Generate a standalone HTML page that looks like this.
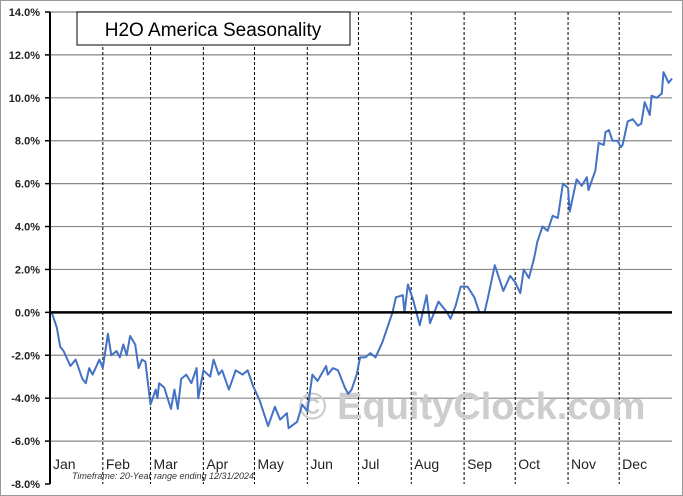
<!DOCTYPE html>
<html><head><meta charset="utf-8"><style>
body{margin:0;background:#fff;}
svg{display:block;font-family:"Liberation Sans",sans-serif;}
</style></head><body>
<svg id="c" width="683" height="496">
<rect x="0.5" y="0.5" width="682" height="495" fill="#fff" stroke="#999"/>
<g id="grid"></g>
<text x="472" y="419" font-size="38" font-weight="bold" fill="#cdcdcd" text-anchor="middle">© EquityClock.com</text>
<g id="series"></g>
<g id="axes"></g>
<rect x="77" y="12" width="273" height="33" fill="#fff" stroke="#000"/>
<text x="213" y="36" font-size="19" text-anchor="middle">H2O America Seasonality</text>
<text x="72" y="479" font-size="9" font-style="italic" fill="#333">Timeframe: 20-Year range ending 12/31/2024</text>
</svg>
<script>
const months=["Jan","Feb","Mar","Apr","May","Jun","Jul","Aug","Sep","Oct","Nov","Dec"];
const monthStarts=[0,31,59,90,120,151,181,212,243,273,304,334];
const yTicks=[14,12,10,8,6,4,2,0,-2,-4,-6,-8];
const days=[0,1,4,6,8,12,15,19,21,23,25,29,31,34,36,39,41,43,45,47,50,52,54,56,59,62,63,64,67,71,73,75,77,80,83,86,87,90,94,96,99,101,105,109,113,116,119,123,128,132,135,139,140,145,148,151,154,157,162,163,166,169,173,175,177,180,182,185,188,191,195,198,201,203,207,208,210,213,217,221,223,228,233,235,238,241,245,249,252,255,257,261,266,270,273,276,278,281,284,286,289,292,295,298,301,304,305,309,312,315,316,320,322,325,326,328,330,333,335,336,339,342,345,347,349,352,353,356,359,360,363,365];
const values=[0,0,-0.7,-1.6,-1.8,-2.5,-2.2,-3.1,-3.3,-2.6,-2.9,-2.2,-2.6,-1.0,-2.0,-1.8,-2.1,-1.5,-2.0,-1.1,-1.5,-2.6,-2.2,-2.3,-4.3,-3.6,-4.0,-3.3,-3.5,-4.5,-3.6,-4.5,-3.1,-2.9,-3.3,-2.6,-4.0,-2.7,-3.0,-2.2,-2.9,-2.7,-3.6,-2.7,-2.9,-2.7,-3.4,-4.1,-5.3,-4.4,-5.0,-4.7,-5.4,-5.1,-4.3,-4.6,-2.9,-3.2,-2.5,-2.9,-2.6,-2.7,-3.5,-3.8,-3.6,-2.9,-2.1,-2.1,-1.9,-2.1,-1.4,-0.7,0,0.7,0.8,0,1.3,0.6,-0.6,0.8,-0.5,0.5,0,-0.3,0.3,1.2,1.2,0.7,0,0,0.7,2.2,1.0,1.7,1.4,0.9,2.0,1.6,2.5,3.3,4.0,3.8,4.5,4.4,6.0,5.8,4.7,6.2,5.9,6.3,5.7,6.6,7.9,7.8,8.4,8.5,8.0,8.0,7.7,7.8,8.9,9.0,8.7,8.8,9.8,9.2,10.1,10.0,10.2,11.2,10.7,10.9];
const NS="http://www.w3.org/2000/svg";
const X0=50,X1=672,Y0=12,Y1=484;
const xs=d=>X0+d/365*(X1-X0);
const ys=v=>Y0+(14-v)/22*(Y1-Y0);
function mk(tag,attrs,parent,txt){const e=document.createElementNS(NS,tag);for(const k in attrs)e.setAttribute(k,attrs[k]);if(txt!==undefined)e.textContent=txt;parent.appendChild(e);return e;}
const grid=document.getElementById('grid'),axes=document.getElementById('axes'),series=document.getElementById('series');
yTicks.forEach(t=>{
  const y=ys(t);
  if(t!==0&&t!==-8){const l=mk('line',{x1:X0,x2:X1,y1:y,y2:y,stroke:'#888','stroke-width':1.2},grid);
  
  }
  const tk=mk('line',{x1:X0-5,x2:X0,y1:y,y2:y,stroke:'#000','stroke-width':1.5},axes);
  
  
  const lb=mk('text',{x:X0-10,y:y+4,'font-size':11,'font-weight':'bold','text-anchor':'end',fill:'#222'},axes,t.toFixed(1)+'%');
  
  
});
months.forEach((m,i)=>{
  const x=xs(monthStarts[i]);
  if(i>0){const l=mk('line',{x1:x,x2:x,y1:Y0,y2:Y1,stroke:'#000','stroke-width':1,'stroke-dasharray':'3,2'},grid);
  
  }
  const lb=mk('text',{x:x+3,y:469,'font-size':14,fill:'#222'},axes,m);
  
  
});
const za=mk('line',{x1:X0,x2:X1,y1:ys(0),y2:ys(0),stroke:'#000','stroke-width':2.5},axes);


const ya=mk('line',{x1:X0,x2:X0,y1:Y0,y2:Y1,stroke:'#000','stroke-width':2},axes);


const p=mk('polyline',{points:days.map((d,i)=>xs(d).toFixed(1)+','+ys(values[i]).toFixed(1)).join(' '),fill:'none',stroke:'#4472c4','stroke-width':2,'stroke-linejoin':'round'},series);


</script>
</body></html>
